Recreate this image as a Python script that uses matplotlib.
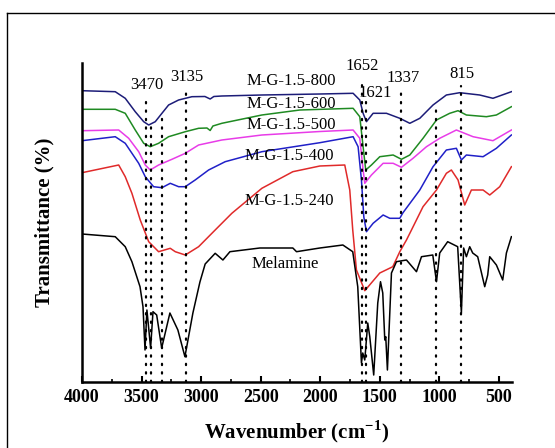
import matplotlib
matplotlib.use('Agg')
import matplotlib.pyplot as plt
from matplotlib.lines import Line2D
from matplotlib.ticker import MultipleLocator

# FTIR spectra, transmittance in arbitrary offset units
wn_800 = [4000, 3721, 3637, 3553, 3482, 3440, 3385, 3329, 3273, 3189, 3077, 2968, 2924, 2893,
          2826, 2490, 2003, 1724, 1668, 1640, 1612, 1556, 1444, 1332, 1248, 1164, 1053, 941,
          829, 661, 550, 395]
t_800 = [291.3, 290.3, 283.7, 270.3, 260.3, 257, 260.3, 268.7, 277, 282, 285.3, 285.5, 283, 285.5,
         286, 287, 288, 288.7, 282, 268.7, 260.3, 268.7, 268.7, 263.7, 258.7, 263.7, 277, 287,
         289.3, 287, 283.7, 290.3]

wn_600 = [4000, 3721, 3637, 3553, 3482, 3427, 3357, 3273, 3133, 3021, 2951, 2924, 2901, 2826,
          2490, 2171, 1724, 1668, 1640, 1618, 1570, 1500, 1388, 1318, 1248, 1137, 1024, 913,
          843, 773, 605, 521, 395]
t_600 = [272.7, 272.7, 268.7, 252, 238.7, 235.3, 238.7, 245.3, 250.3, 253.7, 254, 251.5, 256, 258.7,
         267, 272, 273.7, 265.3, 235.3, 212, 217, 225.3, 227, 222.7, 227, 243.7, 262, 268.7,
         271.3, 267, 265.3, 267, 275.3]

wn_500 = [4000, 3692, 3608, 3524, 3469, 3427, 3357, 3245, 3133, 3021, 2826, 2490, 2003,
          1724, 1668, 1640, 1626, 1570, 1472, 1388, 1318, 1221, 1108, 997, 857, 717, 550, 395]
t_500 = [251.3, 252, 243.7, 230.3, 217, 212, 217, 222.7, 228.7, 237, 242, 247, 250.5,
         252, 243.7, 212, 198.7, 207, 218.7, 218.7, 214.7, 223.7, 235.3, 243.7, 252, 245.3, 241.3, 252]

wn_400 = [4000, 3721, 3637, 3524, 3469, 3399, 3329, 3259, 3189, 3133, 3050, 2937, 2798, 2490,
          2003, 1724, 1682, 1654, 1634, 1612, 1556, 1472, 1416, 1332, 1307, 1164, 1053, 941,
          857, 815, 773, 633, 521, 395]
t_400 = [241.3, 245.3, 238.7, 218.7, 205.3, 195.3, 194.3, 198.7, 195.3, 195.3, 202, 212, 220.3, 230.3,
         239.3, 245.3, 235.3, 202, 165, 150.3, 158.7, 167, 163.7, 163.7, 169, 192, 215.3, 232,
         233.7, 222, 227, 225.3, 233.7, 247]

wn_240 = [4000, 3692, 3637, 3581, 3511, 3440, 3357, 3259, 3217, 3133, 3021, 2882, 2742, 2490,
          2230, 2003, 1794, 1752, 1727, 1696, 1626, 1500, 1391, 1332, 1276, 1234, 1137, 1024,
          941, 899, 843, 787, 731, 633, 577, 493, 395]
t_240 = [209.3, 217, 205.3, 188.7, 162, 140.3, 130.3, 133.7, 130.3, 127, 135.3, 152, 168.7, 193.7,
         210.3, 216, 217, 192, 152, 112, 91.3, 109, 115.3, 130.3, 142, 152, 175.3, 192,
         208.7, 212, 202, 177, 192, 192, 187, 195.3, 215.3]

wn_mel = [4000, 3721, 3637, 3581, 3513, 3488, 3471, 3455, 3424, 3404, 3373, 3331, 3262, 3195,
          3136, 3069, 3010, 2966, 2882, 2817, 2758, 2507, 2230, 2199, 2003, 1810, 1727, 1685,
          1654, 1643, 1626, 1601, 1584, 1551, 1517, 1494, 1475, 1458, 1450, 1436, 1402,
          1360, 1276, 1192, 1150, 1055, 1024, 997, 930, 846, 815, 796, 773, 745, 720,
          678, 619, 594, 577, 521, 468, 437, 395]
t_mel = [148, 145.3, 135.3, 120.3, 95.3, 75.3, 32, 72, 34, 70.3, 67, 34, 69, 52,
         25.3, 69, 100, 118, 128.7, 122, 130.3, 134, 134, 130.3, 134, 137, 130.3, 95.3,
         19, 29, 22, 59, 45.3, 7, 79, 100.3, 89, 42, 45.3, 12, 109,
         120.3, 122, 110.3, 125.3, 127, 100.3, 129, 140.3, 135.3, 69, 134, 125.3, 135.3, 129,
         125.3, 95.3, 107, 125.3, 117, 102, 129, 145.3]

peak_labels = ['3470', '3135', '1652', '1621', '1337', '815']
marker_wn = [3465, 3420, 3330, 3130, 1650, 1618, 1320, 1030, 815]

plt.rcParams['font.family'] = 'Liberation Serif'

fig = plt.figure(figsize=(5.55, 4.48), dpi=100)
ax = fig.add_axes([82 / 555, 66 / 448, 430 / 555, 319 / 448])

series = [
    (wn_800, t_800, '#1c1c78'),
    (wn_600, t_600, '#1f8a22'),
    (wn_500, t_500, '#e83ce8'),
    (wn_400, t_400, '#2020c8'),
    (wn_240, t_240, '#e02a2a'),
    (wn_mel, t_mel, '#000000'),
]
for x, y, c in series:
    ax.plot(x, y, color=c, lw=1.1)

# dotted markers
tops = [285, 255, 270, 292, 303, 285, 295, 277, 296]
for xm, top in zip(marker_wn, tops):
    ax.plot([xm, xm], [0, top], color='black', lw=1.6, linestyle=(0, (0.6, 3.2)),
            dash_capstyle='round')

txt = dict(fontsize=12, color='black')
ax.text(3460, 297, peak_labels[0], ha='center', va='center', **txt)
ax.text(3119, 305, peak_labels[1], ha='center', va='center', **txt)
ax.text(1651, 316, peak_labels[2], ha='center', va='center', **txt)
ax.text(1542, 289, peak_labels[3], ha='center', va='center', **txt)
ax.text(1303, 304, peak_labels[4], ha='center', va='center', **txt)
ax.text(812, 307.5, peak_labels[5], ha='center', va='center', **txt)

ax.text(2616, 301, 'M-G-1.5-800', ha='left', va='center', **txt)
ax.text(2616, 278, 'M-G-1.5-600', ha='left', va='center', **txt)
ax.text(2616, 257, 'M-G-1.5-500', ha='left', va='center', **txt)
ax.text(2633, 225.5, 'M-G-1.5-400', ha='left', va='center', **txt)
ax.text(2633, 181, 'M-G-1.5-240', ha='left', va='center', **txt)
ax.text(2576, 118, 'Melamine', ha='left', va='center', **txt)

ax.set_xlim(4000, 390)
ax.set_ylim(0, 319)
ax.spines['top'].set_visible(False)
ax.spines['right'].set_visible(False)
ax.spines['left'].set_linewidth(1.8)
ax.spines['bottom'].set_linewidth(1.8)
ax.set_yticks([])
ax.xaxis.set_major_locator(MultipleLocator(500))
ax.xaxis.set_minor_locator(MultipleLocator(250))
ax.tick_params(axis='x', which='major', direction='in', length=4, width=1.5, pad=5)
ax.tick_params(axis='x', which='minor', direction='in', length=2.5, width=1.2)
for lab in ax.get_xticklabels():
    lab.set_fontweight('bold')
    lab.set_fontsize(13)

ax.set_xlabel('Wavenumber (cm$^{\\mathregular{-1}}$)', fontsize=15, fontweight='bold', labelpad=9)
ax.set_ylabel('Transmittance (%)', fontsize=15, fontweight='bold', labelpad=20)

# outer frame of the original picture
fig.add_artist(Line2D([7 / 555, 7 / 555], [0, 1 - 13 / 448], transform=fig.transFigure,
                      color='black', lw=1))
fig.add_artist(Line2D([7 / 555, 1], [1 - 13 / 448, 1 - 13 / 448], transform=fig.transFigure,
                      color='black', lw=1))

fig.savefig('out.png', dpi=100)
